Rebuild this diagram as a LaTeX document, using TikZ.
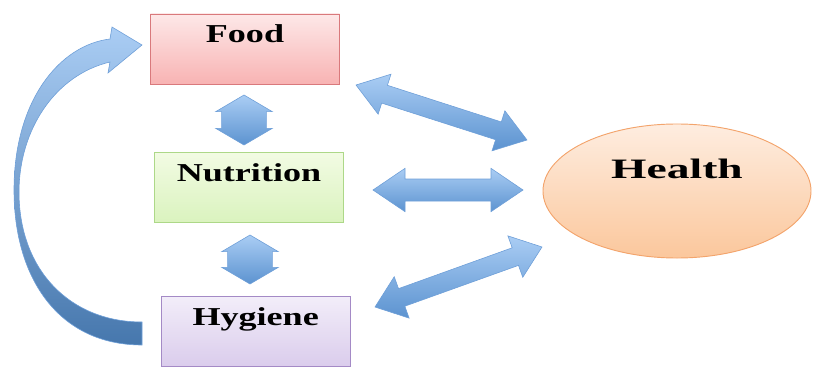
\documentclass[tikz,border=0pt]{standalone}
\usepackage{fontspec}
\usepackage{tikz}
\usetikzlibrary{calc,positioning,shapes.geometric}
\newfontfamily\boxfont[FakeStretch=1.4]{Liberation Serif}
\newfontfamily\ovalfont[FakeStretch=1.62]{Liberation Serif}
\definecolor{FoodTop}{HTML}{FDE8E8}
\definecolor{FoodBot}{HTML}{F8B3B3}
\definecolor{FoodLine}{HTML}{D9797C}
\definecolor{NutriTop}{HTML}{F2FBE3}
\definecolor{NutriBot}{HTML}{DAF3BE}
\definecolor{NutriLine}{HTML}{ADD888}
\definecolor{HygTop}{HTML}{F2EDF9}
\definecolor{HygBot}{HTML}{DACCEC}
\definecolor{HygLine}{HTML}{A48AC6}
\definecolor{HealthTop}{HTML}{FEEDE0}
\definecolor{HealthBot}{HTML}{FBC79C}
\definecolor{HealthLine}{HTML}{F3A46C}
\definecolor{ArrowTop}{HTML}{AACDF4}
\definecolor{ArrowBot}{HTML}{5C93D0}
\definecolor{ArrowDark}{HTML}{4677AD}
\definecolor{ArrowLine}{HTML}{6E9FD8}
% double block arrow: from, to, shaft half width, head half width, head length
\newcommand{\dblarrow}[5]{%
  \path[blockarr] (#1)
    -- ($(#1)!#5!(#2)!#4!90:(#2)$)
    -- ($(#1)!#5!(#2)!#3!90:(#2)$)
    -- ($(#2)!#5!(#1)!#3!-90:(#1)$)
    -- ($(#2)!#5!(#1)!#4!-90:(#1)$)
    -- (#2)
    -- ($(#2)!#5!(#1)!#4!90:(#1)$)
    -- ($(#2)!#5!(#1)!#3!90:(#1)$)
    -- ($(#1)!#5!(#2)!#3!-90:(#2)$)
    -- ($(#1)!#5!(#2)!#4!-90:(#2)$)
    -- cycle;}

\begin{document}
\begin{tikzpicture}[
	x=0.03cm, y=-0.03cm,
	box/.style={draw, line width=0.8pt, inner sep=0pt,
		minimum width=5.67cm, minimum height=2.1cm,
		text height=0.85cm, text depth=1.25cm,
		font=\boxfont\bfseries\fontsize{22}{26}\selectfont},
	oval/.style={ellipse, draw=HealthLine, line width=0.8pt,
		top color=HealthTop, bottom color=HealthBot, inner sep=0pt,
		minimum width=8.04cm, minimum height=4.02cm,
		text height=0.6cm, text depth=1.38cm,
		font=\ovalfont\bfseries\fontsize{24}{28}\selectfont},
	blockarr/.style={draw=ArrowLine, line width=0.5pt,
		top color=ArrowTop, bottom color=ArrowBot}
	]
	\useasboundingbox (0,0) rectangle (813,367);
	\node[box, draw=FoodLine, top color=FoodTop, bottom color=FoodBot] (food) at (245,49) {Food};
	\node[box, draw=NutriLine, top color=NutriTop, bottom color=NutriBot,
		below=2.04cm of food, xshift=0.12cm] (nutri) {Nutrition};
	\node[box, draw=HygLine, top color=HygTop, bottom color=HygBot,
		below=2.19cm of nutri, xshift=0.2cm] (hyg) {Hygiene};
	\node[oval] (health) at (677,191) {Health};

	% arrow ends
	\coordinate (fn1) at (244,95);
	\coordinate (fn2) at (244,145);
	\coordinate (nh1) at (250,235);
	\coordinate (nh2) at (250,284);
	\coordinate (fh1) at (356,85);
	\coordinate (fh2) at (527,140);
	\coordinate (th1) at (373,190);
	\coordinate (th2) at (523,190);
	\coordinate (gh1) at (375,307);
	\coordinate (gh2) at (542,247);

	\dblarrow{fn1}{fn2}{0.67cm}{0.85cm}{0.5cm}
	\dblarrow{nh1}{nh2}{0.67cm}{0.85cm}{0.5cm}
	\dblarrow{fh1}{fh2}{0.28cm}{0.63cm}{0.9cm}
	\dblarrow{th1}{th2}{0.33cm}{0.65cm}{0.96cm}
	\dblarrow{gh1}{gh2}{0.28cm}{0.66cm}{0.85cm}

	% loop back from Hygiene to Food
	\path[draw=ArrowLine, line width=0.5pt, top color=ArrowTop, bottom color=ArrowDark]
		(142,345) .. controls (60,345) and (14,280) .. (14,190)
		.. controls (14,100) and (60,45) .. (110,39)
		-- (112,27) -- (142,45) -- (108,73) -- (110,62)
		.. controls (55,75) and (19,130) .. (19,192)
		.. controls (19,270) and (70,322) .. (142,322) -- cycle;
\end{tikzpicture}
\end{document}
